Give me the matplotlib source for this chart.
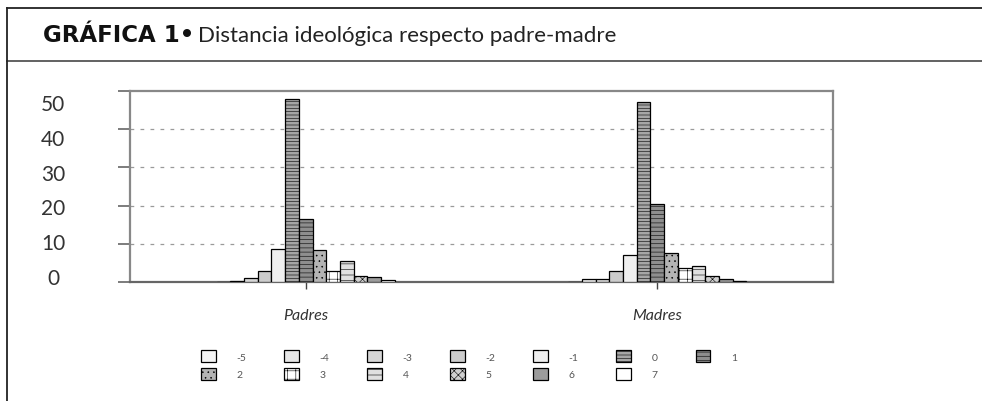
import numpy as np
import matplotlib
matplotlib.use("Agg")
import matplotlib.pyplot as plt
from matplotlib.patches import Patch
from matplotlib.lines import Line2D

# Data
groups = ['Padres', 'Madres']
distances = ['-5', '-4', '-3', '-2', '-1', '0', '1', '2', '3', '4', '5', '6', '7']
padres = [0.0, 0.3, 1.1, 3.0, 8.6, 47.8, 16.4, 8.4, 2.9, 5.6, 1.7, 1.2, 0.4]
madres = [0.1, 0.9, 0.8, 3.0, 7.1, 47.2, 20.3, 7.6, 3.6, 4.2, 1.7, 0.9, 0.3]
y_labels = ['50', '40', '30', '20', '10', '0']

# Fill / hatch per distance category
fills = ['#f4f4f4', '#e6e6e6', '#d6d6d6', '#cccccc', '#efefef', '#a6a6a6', '#8e8e8e',
         '#b4b4b4', '#ffffff', '#e0e0e0', '#d0d0d0', '#9c9c9c', '#ffffff']
hatches = ['', '', '', '', '', '-----', '----', '...', '++', '---', 'xxxx', '', '']

plt.rcParams['font.family'] = ['Lato', 'DejaVu Sans']
plt.rcParams['hatch.linewidth'] = 0.4

W, H = 982, 402
fig = plt.figure(figsize=(W / 100, H / 100), dpi=100)

# Frame lines (title box)
def hline(y, x0, x1, color, lw):
    fig.add_artist(Line2D([x0 / W, x1 / W], [1 - y / H, 1 - y / H], color=color, lw=lw,
                          transform=fig.transFigure))

hline(9, 7, W, '#222222', 1.3)
hline(62, 7, W, '#555555', 1.3)
fig.add_artist(Line2D([7 / W, 7 / W], [1 - 9 / H, 0], color='#222222', lw=1.3,
                      transform=fig.transFigure))

# Title
t1 = fig.text(43 / W, 1 - 42 / H, 'GRÁFICA 1•', fontsize=16.5, fontweight='bold',
              family='DejaVu Sans', color='#111111', va='baseline', ha='left')
fig.canvas.draw()
bb = t1.get_window_extent()
fig.text((bb.x1 + 4) / W, 1 - 42 / H, 'Distancia ideológica respecto padre-madre',
         fontsize=16, fontweight='normal', color='#222222', va='baseline', ha='left')

# Axes
ax = fig.add_axes([130 / W, 1 - 283 / H, 703 / W, 191 / H])
x = np.arange(len(groups))
width = 0.039
n = len(distances)
for i, d in enumerate(distances):
    vals = [padres[i], madres[i]]
    ax.bar(x + (i - (n - 1) / 2) * width, vals, width, color=fills[i], hatch=hatches[i],
           edgecolor='black', linewidth=0.9, zorder=3)

ax.set_xlim(-0.5, 1.5)
ax.set_ylim(0, 50)
ax.set_yticks([0, 10, 20, 30, 40, 50])
ax.set_yticklabels([])
ax.tick_params(axis='y', direction='out', length=9, width=1.2, color='#666666')
ax.set_xticks(x)
ax.set_xticklabels(groups, fontstyle='italic', fontsize=11.5, color='#333333')
ax.tick_params(axis='x', direction='out', length=5, width=1, color='#444444', pad=14)
for s in ax.spines.values():
    s.set_color('#888888')
    s.set_linewidth(1.6)
ax.spines['bottom'].set_color('#666666')
for yv in [10, 20, 30, 40]:
    ax.axhline(yv, color='#9a9a9a', lw=0.9, ls=(0, (3, 5)), zorder=1)

# Y labels as typeset beside the axis
ys = np.linspace(105, 279, len(y_labels))
for lab, yp in zip(y_labels, ys):
    fig.text(53 / W, 1 - yp / H, lab, fontsize=15, fontweight='normal', color='#333333',
             ha='center', va='center')

# Legend (row-wise order)
handles = [Patch(facecolor=fills[i], hatch=hatches[i], edgecolor='black', linewidth=0.9)
           for i in range(n)]
order = [0, 7, 1, 8, 2, 9, 3, 10, 4, 11, 5, 12, 6]
fig.legend([handles[i] for i in order], [distances[i] for i in order], ncol=7,
           loc='center', bbox_to_anchor=(469 / W, 1 - 366 / H), frameon=False,
           fontsize=7.5, labelcolor='#555555', handlelength=1.4, handleheight=1.4,
           handletextpad=2.0, columnspacing=3.63, labelspacing=0.5)

fig.savefig('out.png', dpi=100, facecolor='white')
